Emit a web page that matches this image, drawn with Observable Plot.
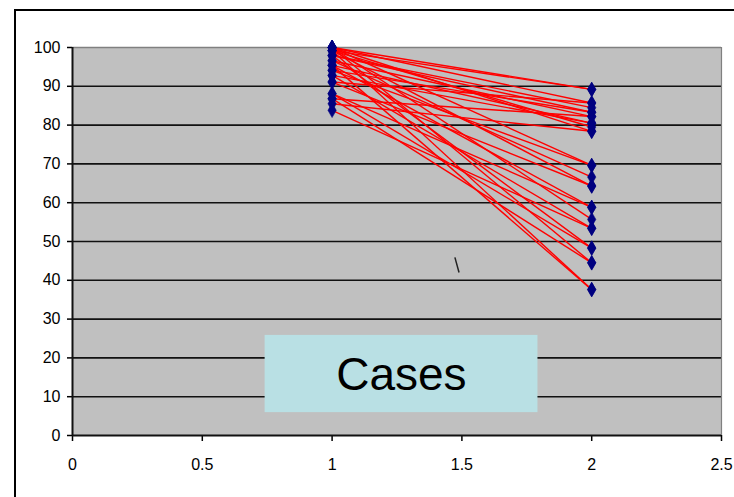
<!DOCTYPE html>
<html>
<head>
<meta charset="utf-8">
<script src="https://cdn.jsdelivr.net/npm/d3@7"></script>
<script src="https://cdn.jsdelivr.net/npm/@observablehq/plot@0.6"></script>
<style>
  html, body { margin: 0; padding: 0; background: #fff; }
  #wrap { position: relative; width: 734px; height: 497px; overflow: hidden; }
  #border { position: absolute; left: 14px; top: 9px; width: 800px; height: 600px;
            border-left: 2px solid #000; border-top: 2px solid #000; pointer-events: none; }
</style>
</head>
<body>
<div id="wrap"><div id="border"></div></div>
<script>
// Values at time 1 (x = 1) and time 2 (x = 2), one pair per case
const before = [100, 99.2, 100, 98, 97.9, 96.6, 95.4, 100, 92.8, 86.8, 85.5, 99.2, 100, 94.1, 96.6,
                91.1, 99.2, 95.4, 88.1, 100, 92.8, 83.8, 97.9, 86.8, 100, 88.1, 99.2, 95.4, 94.1, 91.1];
const after  = [89.2, 89.2, 85.7, 84.5, 83.3, 82.2, 80.5, 78.4, 80.5, 82.2, 78.4, 79.5, 69.6, 69.6, 66.6,
                64.3, 64.3, 58.8, 58.8, 55.7, 53.4, 53.4, 48.3, 44.5, 44.5, 48.3, 37.6, 37.6, 83.3, 85.7];
const timeBefore = 1;
const timeAfter = 2;

const xTicks = [0, 0.5, 1, 1.5, 2, 2.5];
const yTicks = [0, 10, 20, 30, 40, 50, 60, 70, 80, 90, 100];

// label box and stray mark in data coordinates
const labelText = ["Cases"];
const labelBox = [{x1: 0.742, x2: 1.793, y1: 5.9, y2: 25.8}];
const labelPos = [{x: 1.267, y: 11.6}];
const strayMark = [{x1: 1.473, y1: 45.9, x2: 1.489, y2: 42.0}];

const pairs = before.map((b, i) => ({b, a: after[i]}));
const points = [
  ...before.map(v => ({x: timeBefore, y: v})),
  ...after.map(v => ({x: timeAfter, y: v}))
];

const chart = Plot.plot({
  width: 734,
  height: 497,
  marginLeft: 72,
  marginRight: 13,
  marginTop: 47,
  marginBottom: 62,
  style: {fontFamily: "'Liberation Sans', Arial, sans-serif", fontSize: "16px", background: "transparent", color: "#000"},
  x: {domain: [0, 2.5], nice: false},
  y: {domain: [0, 100], nice: false},
  marks: [
    Plot.frame({fill: "#c0c0c0", stroke: null}),
    Plot.ruleY(yTicks.filter(d => d > 0 && d < 100), {stroke: "#111", strokeWidth: 1.6}),
    Plot.ruleY([100], {stroke: "#808080", strokeWidth: 1.6}),
    Plot.ruleX([2.5], {stroke: "#808080", strokeWidth: 1.2}),
    Plot.axisY({ticks: yTicks, tickSize: 5, tickPadding: 7, label: null, tickFormat: d => String(d), fontSize: 16, strokeWidth: 1.5}),
    Plot.axisX({ticks: xTicks, tickSize: 6, tickPadding: 17, label: null, tickFormat: d => String(d), fontSize: 16, strokeWidth: 1.5}),
    Plot.ruleX([0], {stroke: "#111", strokeWidth: 2}),
    Plot.ruleY([0], {stroke: "#111", strokeWidth: 2}),
    Plot.link(pairs, {x1: () => timeBefore, y1: "b", x2: () => timeAfter, y2: "a", stroke: "#ff0000", strokeWidth: 1.4}),
    Plot.dot(points, {x: "x", y: "y", symbol: "diamond", r: 4.4, fill: "#000080", stroke: "#000080", strokeWidth: 0.5}),
    Plot.link(strayMark, {x1: "x1", y1: "y1", x2: "x2", y2: "y2", stroke: "#222", strokeWidth: 1.5}),
    Plot.rect(labelBox, {x1: "x1", x2: "x2", y1: "y1", y2: "y2", fill: "#b9e0e4"}),
    Plot.text(labelPos, {x: "x", y: "y", text: () => labelText[0], fontSize: 46, lineAnchor: "bottom", fill: "#000"})
  ]
});
document.getElementById("wrap").prepend(chart);
chart.style.position = "absolute";
chart.style.left = "0";
chart.style.top = "0";
</script>
</body>
</html>
